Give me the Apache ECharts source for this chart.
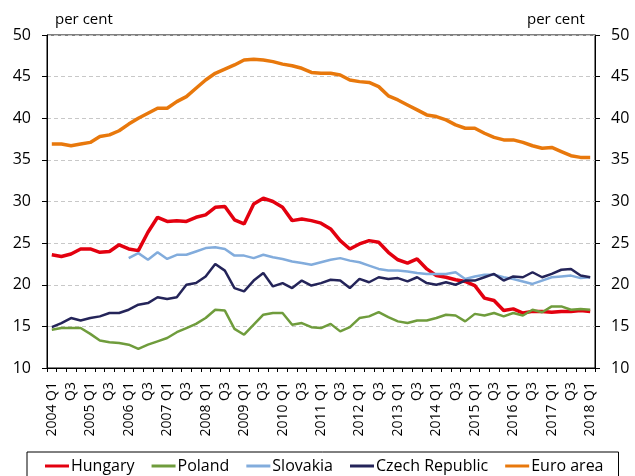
<!DOCTYPE html>
<html>
<head>
<meta charset="utf-8">
<script src="https://cdn.jsdelivr.net/npm/echarts@6/dist/echarts.min.js"></script>
<style>
  html, body { margin: 0; padding: 0; background: #fff; }
  #chart { width: 635px; height: 476px; }
</style>
</head>
<body>
<div id="chart"></div>
<script>
  // quarters 2004 Q1 .. 2018 Q1
  var quarters = [];
  for (var y = 2004; y <= 2018; y++) {
    for (var q = 1; q <= 4; q++) {
      if (y === 2018 && q > 1) break;
      quarters.push(y + ' Q' + q);
    }
  }

  var hungary = [23.6, 23.4, 23.7, 24.3, 24.3, 23.9, 24.0, 24.8, 24.3, 24.1,
    26.3, 28.1, 27.6, 27.7, 27.6, 28.1, 28.4, 29.3, 29.4, 27.8,
    27.3, 29.7, 30.4, 30.0, 29.3, 27.7, 27.9, 27.7, 27.4, 26.7,
    25.3, 24.3, 24.9, 25.3, 25.1, 23.9, 23.0, 22.6, 23.1, 21.9,
    21.1, 20.9, 20.6, 20.4, 19.9, 18.4, 18.1, 16.9, 17.1, 16.6,
    16.8, 16.8, 16.7, 16.8, 16.8, 16.9, 16.8];

  var poland = [14.6, 14.8, 14.8, 14.8, 14.1, 13.3, 13.1, 13.0, 12.8, 12.3,
    12.8, 13.2, 13.6, 14.3, 14.8, 15.3, 16.0, 17.0, 16.9, 14.7,
    14.0, 15.2, 16.4, 16.6, 16.6, 15.2, 15.4, 14.9, 14.8, 15.3,
    14.4, 14.9, 16.0, 16.2, 16.7, 16.1, 15.6, 15.4, 15.7, 15.7,
    16.0, 16.4, 16.3, 15.6, 16.5, 16.3, 16.6, 16.2, 16.6, 16.3,
    17.0, 16.7, 17.4, 17.4, 17.0, 17.1, 17.0];

  var slovakia = [null, null, null, null, null, null, null, null, 23.2, 23.8,
    23.0, 23.9, 23.1, 23.6, 23.6, 24.0, 24.4, 24.5, 24.3, 23.5,
    23.5, 23.2, 23.6, 23.3, 23.1, 22.8, 22.6, 22.4, 22.7, 23.0,
    23.2, 22.9, 22.7, 22.3, 21.9, 21.7, 21.7, 21.6, 21.4, 21.3,
    21.3, 21.3, 21.5, 20.7, 21.0, 21.2, 21.2, 20.9, 20.7, 20.4,
    20.1, 20.5, 20.9, 21.0, 21.1, 20.8, 20.9];

  var czech = [14.9, 15.4, 16.0, 15.7, 16.0, 16.2, 16.6, 16.6, 17.0, 17.6,
    17.8, 18.5, 18.3, 18.5, 20.0, 20.2, 21.0, 22.5, 21.7, 19.6,
    19.2, 20.5, 21.4, 19.8, 20.2, 19.6, 20.5, 19.9, 20.2, 20.6,
    20.5, 19.6, 20.7, 20.3, 20.9, 20.7, 20.8, 20.4, 20.9, 20.2,
    20.0, 20.3, 20.0, 20.5, 20.5, 20.9, 21.3, 20.5, 21.0, 20.9,
    21.5, 20.9, 21.3, 21.8, 21.9, 21.1, 20.9];

  var euroArea = [36.9, 36.9, 36.7, 36.9, 37.1, 37.8, 38.0, 38.5, 39.3, 40.0,
    40.6, 41.2, 41.2, 42.0, 42.6, 43.6, 44.6, 45.4, 45.9, 46.4,
    47.0, 47.1, 47.0, 46.8, 46.5, 46.3, 46.0, 45.5, 45.4, 45.4,
    45.2, 44.6, 44.4, 44.3, 43.8, 42.7, 42.2, 41.6, 41.0, 40.4,
    40.2, 39.8, 39.2, 38.8, 38.8, 38.2, 37.7, 37.4, 37.4, 37.1,
    36.7, 36.4, 36.5, 36.0, 35.5, 35.3, 35.3];

  var yMin = 10, yMax = 50, yStep = 5;

  var font = 'Open Sans';
  var chart = echarts.init(document.getElementById('chart'));

  function valueAxis(pos) {
    return {
      type: 'value',
      position: pos,
      min: yMin,
      max: yMax,
      interval: yStep,
      axisLine: { show: true, lineStyle: { color: '#000', width: 1 } },
      axisTick: { show: true, length: 5, lineStyle: { color: '#000' } },
      axisLabel: { color: '#000', fontSize: 16, fontFamily: font, margin: 16 },
      splitLine: pos === 'left' ? {
        show: true,
        lineStyle: { color: '#c8c8c8', type: [4, 3], width: 1 }
      } : { show: false }
    };
  }

  function line(name, data, color, width) {
    return {
      name: name,
      type: 'line',
      data: data,
      yAxisIndex: 0,
      symbol: 'none',
      smooth: false,
      connectNulls: false,
      lineStyle: { color: color, width: width },
      itemStyle: { color: color },
      emphasis: { disabled: true }
    };
  }

  chart.setOption({
    animation: false,
    grid: { left: 47, right: 40, top: 35, bottom: 108, containLabel: false,
      show: true, borderColor: '#000', borderWidth: 1 },
    graphic: [
      { type: 'text', left: 55, top: 12, style: { text: 'per cent', fontSize: 15, fontFamily: font, fill: '#000' } },
      { type: 'text', left: 527, top: 12, style: { text: 'per cent', fontSize: 15, fontFamily: font, fill: '#000' } }
    ],
    legend: {
      left: 27,
      top: 452,
      padding: [6, 15, 12, 18],
      itemGap: 17,
      itemWidth: 24,
      itemHeight: 3,
      icon: 'rect',
      borderColor: '#000',
      borderWidth: 1,
      textStyle: { fontSize: 16, fontFamily: font, color: '#000', padding: [0, 0, 0, -3] },
      data: ['Hungary', 'Poland', 'Slovakia', 'Czech Republic', 'Euro area']
    },
    xAxis: {
      type: 'category',
      data: quarters,
      boundaryGap: true,
      axisLine: { lineStyle: { color: '#000' } },
      axisTick: { show: true, interval: 0, length: 4, lineStyle: { color: '#000' } },
      axisLabel: {
        interval: 1,
        rotate: 90,
        fontSize: 14,
        fontFamily: font,
        color: '#000',
        margin: 14,
        formatter: function (v) {
          return v.indexOf('Q1') >= 0 ? v : v.slice(5);
        }
      }
    },
    yAxis: [valueAxis('left'), valueAxis('right')],
    series: [
      line('Hungary', hungary, '#e3000f', 3.5),
      line('Poland', poland, '#6f9c3c', 2.5),
      line('Slovakia', slovakia, '#82acdc', 2.5),
      line('Czech Republic', czech, '#242459', 2.5),
      line('Euro area', euroArea, '#e8780c', 3.5)
    ]
  });
</script>
</body>
</html>
